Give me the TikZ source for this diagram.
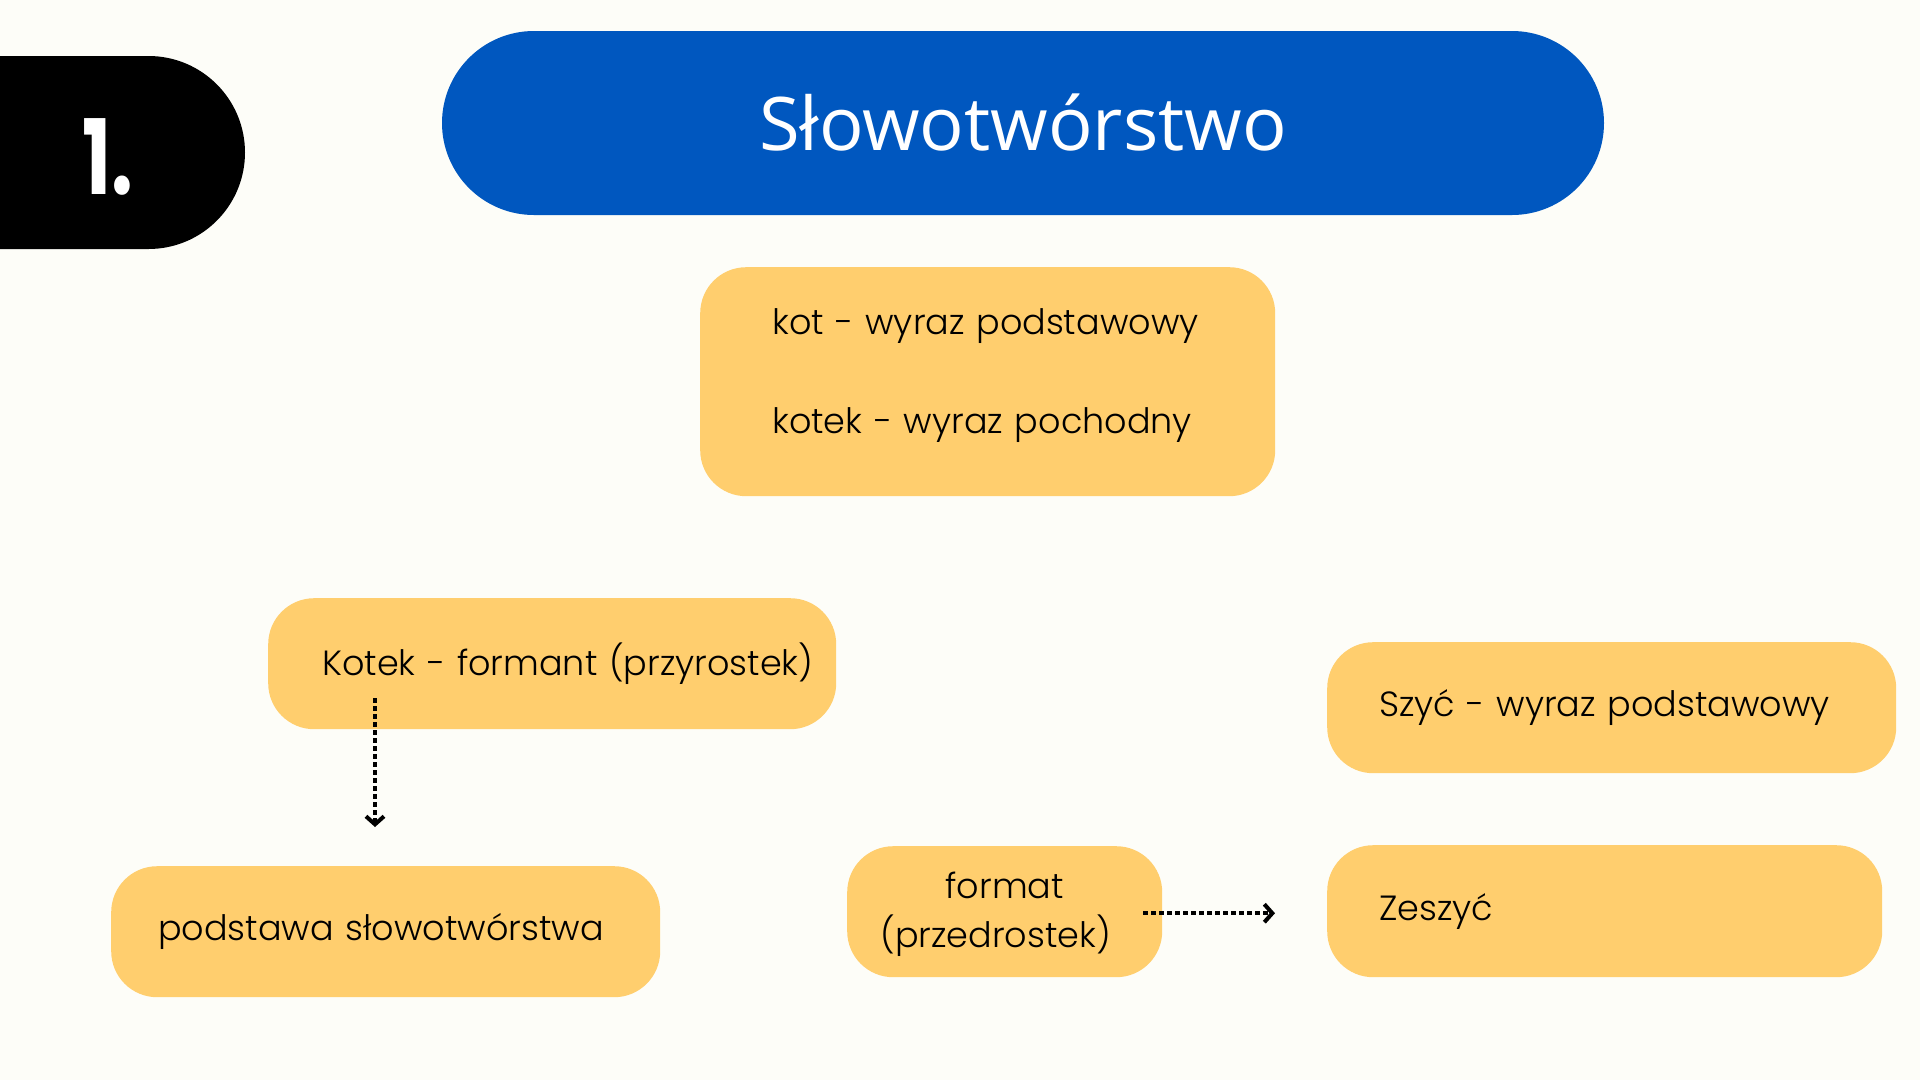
\documentclass[tikz,border=0pt]{standalone}
\usepackage{fontspec}
\setmainfont{Poppins}[UprightFont=* Light]
\newfontfamily\titlefont{Open Sans}
\newfontfamily\badgefont{Poppins}[UprightFont=* Bold]
\usetikzlibrary{arrows.meta,calc}
\definecolor{paper}{HTML}{FDFDF8}
\definecolor{pillblue}{HTML}{0057BF}
\definecolor{cardyellow}{HTML}{FFCE6E}
\begin{document}
\begin{tikzpicture}[x=1pt,y=-1pt,
  card/.style={fill=cardyellow, rounded corners=46pt, anchor=north west,
    inner ysep=0pt, align=left, text=black,
    font=\fontsize{35}{42}\selectfont},
  link/.style={line width=4.2pt, dash pattern=on 4.2pt off 3.8pt,
    -{Straight Barb[length=8pt,width=18pt,line width=4pt]}}]
  % page
  \useasboundingbox (0,0) rectangle (1920,1080);
  \fill[paper] (0,0) rectangle (1920,1080);
  \clip (0,0) rectangle (1920,1080);

  % number badge running off the left edge
  \fill[black, rounded corners=96.5pt] (-200,56) rectangle (245,249);
  \node[text=white, font=\badgefont\fontsize{104}{104}\selectfont] (num) at (108,157)
        {\scalebox{0.74}[1]{1.}};

  % title pill
  \node[fill=pillblue, rounded corners=92pt, minimum width=1162pt, minimum height=184pt,
        inner sep=0pt, text=white, font=\titlefont\fontsize{74}{80}\selectfont]
        (title) at (1023,123) {Słowotwórstwo};

  % cards
  \node[card, minimum width=575pt, minimum height=229pt, text width=431pt, inner xsep=72pt,
        font=\fontsize{35}{99}\selectfont]
        (base) at (700,267)
        {\mbox{kot - wyraz podstawowy}\\\mbox{kotek - wyraz pochodny}\rule[-21pt]{0pt}{21pt}};
  \node[card, minimum width=568pt, minimum height=131pt, text width=460pt, inner xsep=54pt]
        (suffix) at (268,598) {\mbox{Kotek - formant (przyrostek)}};
  \node[card, minimum width=549pt, minimum height=131pt, text width=455pt, inner xsep=47pt]
        (stem) at (111,866) {\mbox{podstawa słowotwórstwa}};
  \node[card, minimum width=315pt, minimum height=131pt, text width=275pt, inner xsep=20pt,
        align=center, font=\fontsize{35}{49}\selectfont]
        (prefix) at (847,846) {\rule{0pt}{31pt}format\\(przedrostek)\hspace*{18pt}};
  \node[card, minimum width=569pt, minimum height=131pt, text width=465pt, inner xsep=52pt]
        (szyc) at (1327,642) {\mbox{Szyć - wyraz podstawowy}};
  \node[card, minimum width=555pt, minimum height=132pt, text width=451pt, inner xsep=52pt]
        (zeszyc) at (1327,845) {\mbox{Zeszyć}};

  % dotted connectors
  \coordinate (sufout) at ($(suffix.south west)+(107,-31)$);
  \coordinate (stemin) at ($(stem.north west)+(264,-39)$);
  \coordinate (preout) at ($(prefix.east)+(-19,1.5)$);
  \coordinate (zesin)  at ($(zeszyc.west)+(-52,2)$);
  \draw[link] (sufout) -- (stemin);
  \draw[link] (preout) -- (zesin);
\end{tikzpicture}
\end{document}
